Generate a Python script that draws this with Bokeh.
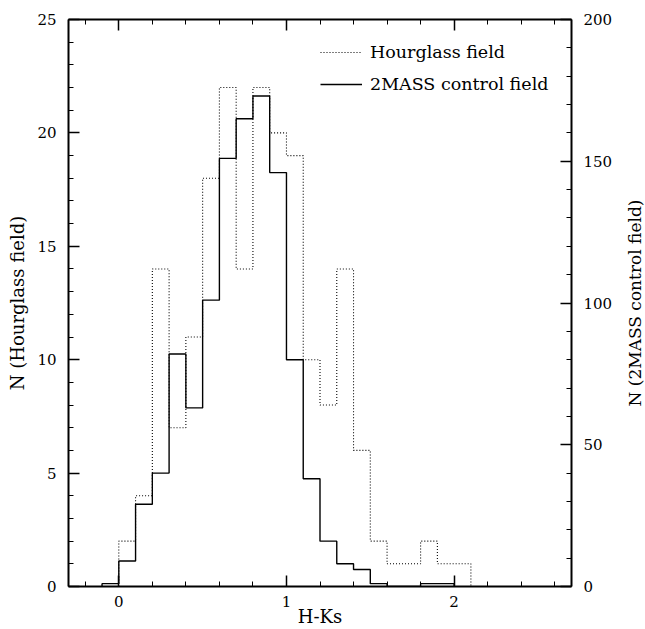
import math
from bokeh.plotting import figure
from bokeh.layouts import row
from bokeh.core.properties import value
from bokeh.models import (LinearAxis, Range1d, SingleIntervalTicker, Legend, LegendItem,
                          CustomLabelingPolicy)
from bokeh.embed import file_html
from bokeh.resources import INLINE

# Hourglass field histogram (left axis), bin left edges and counts
hg_bins = [0.0, 0.1, 0.2, 0.3, 0.4, 0.5, 0.6, 0.7, 0.8, 0.9, 1.0,
           1.1, 1.2, 1.3, 1.4, 1.5, 1.6, 1.7, 1.8, 1.9, 2.0]
hg_counts = [2, 4, 14, 7, 11, 18, 22, 14, 22, 20, 19,
             10, 8, 14, 6, 2, 1, 1, 2, 1, 1]

# 2MASS control field histogram (right axis)
ctl_bins = [-0.1, 0.0, 0.1, 0.2, 0.3, 0.4, 0.5, 0.6, 0.7, 0.8, 0.9,
            1.0, 1.1, 1.2, 1.3, 1.4, 1.5, 1.6, 1.7, 1.8, 1.9]
ctl_counts = [1, 9, 29, 40, 82, 63, 101, 151, 165, 173, 146,
              80, 38, 16, 8, 6, 1, 0, 0, 1, 1]
bin_width = 0.1

x_label = "H-Ks"
left_label = "N (Hourglass field)"
right_label = "N (2MASS control field)"
series_names = ["Hourglass field", "2MASS control field"]

FONT = "DejaVu Serif"


def outline(bins, counts, width):
    xs = [bins[0]] + list(bins) + [bins[-1] + width]
    ys = [0] + list(counts) + [0]
    return xs, ys


p = figure(width=623, height=629, x_range=(-0.3, 2.7), y_range=(0, 25),
           output_backend="svg", toolbar_location=None,
           x_axis_location=None, y_axis_location=None,
           min_border_left=68, min_border_right=52,
           min_border_top=19, min_border_bottom=43)
p.extra_y_ranges = {"right": Range1d(0, 200)}
p.xgrid.visible = False
p.ygrid.visible = False
p.outline_line_color = None
p.background_fill_color = "white"
p.border_fill_color = "white"


def style(ax):
    ax.axis_line_color = "black"
    ax.axis_line_width = 2
    ax.major_tick_line_color = "black"
    ax.minor_tick_line_color = "black"
    ax.major_tick_line_width = 1.5
    ax.minor_tick_line_width = 1
    ax.major_tick_in = 11
    ax.major_tick_out = 0
    ax.minor_tick_in = 5
    ax.minor_tick_out = 0
    ax.major_label_text_font = FONT
    ax.major_label_text_font_size = "15px"
    ax.major_label_text_color = "black"
    ax.axis_label_text_font = FONT
    ax.axis_label_text_font_size = "18px"
    ax.axis_label_text_font_style = "normal"
    ax.axis_label_text_color = "black"


xb = LinearAxis(ticker=SingleIntervalTicker(interval=1, num_minor_ticks=5), axis_label=x_label)
style(xb)
xb.major_label_standoff = 9
xb.axis_label_standoff = -4
p.add_layout(xb, "below")

xt = LinearAxis(ticker=SingleIntervalTicker(interval=1, num_minor_ticks=5))
style(xt)
xt.major_label_standoff = 0
xt.major_label_policy = CustomLabelingPolicy(code="""
    for (const i of indices) {
        indices.unset(i)
    }
    return indices
""")
p.add_layout(xt, "above")

yl = LinearAxis(ticker=SingleIntervalTicker(interval=5, num_minor_ticks=5), axis_label=left_label)
style(yl)
yl.major_label_standoff = 12
yl.axis_label_standoff = 6
p.add_layout(yl, "left")

yr = LinearAxis(y_range_name="right", ticker=SingleIntervalTicker(interval=50, num_minor_ticks=5))
style(yr)
yr.major_label_standoff = 12
p.add_layout(yr, "right")

hx, hy = outline(hg_bins, hg_counts, bin_width)
r1 = p.step(hx, hy, mode="after", line_color="black", line_width=1.1, line_dash="1 2")

cx, cy = outline(ctl_bins, ctl_counts, bin_width)
r2 = p.step(cx, cy, mode="after", line_color="black", line_width=1.4, y_range_name="right")

legend = Legend(items=[LegendItem(label=series_names[0], renderers=[r1]),
                       LegendItem(label=series_names[1], renderers=[r2])],
                location=(252, 492), orientation="vertical",
                border_line_color=None, background_fill_alpha=0,
                padding=0, margin=0, spacing=12,
                glyph_width=42, glyph_height=20, label_height=20,
                label_standoff=8,
                label_text_font=FONT, label_text_font_size="17.5px",
                label_text_color="black")
p.add_layout(legend, "center")

# narrow strip holding the right-axis title, reading bottom-to-top like the original
p2 = figure(width=22, height=629, x_range=(0, 1), y_range=p.y_range,
            output_backend="svg", toolbar_location=None,
            x_axis_location=None, y_axis_location=None,
            min_border_left=0, min_border_right=0,
            min_border_top=19, min_border_bottom=43)
p2.xgrid.visible = False
p2.ygrid.visible = False
p2.outline_line_color = None
p2.background_fill_color = "white"
p2.border_fill_color = "white"
y_mid = (p.y_range.start + p.y_range.end) / 2
p2.text(x=[0.5], y=[y_mid], text=[right_label], angle=math.pi / 2,
        text_align="center", text_baseline="middle",
        text_font=value(FONT), text_font_size="17px", text_color="black")

layout = row(p, p2, spacing=0)
open("out.html", "w").write(file_html(layout, INLINE))
